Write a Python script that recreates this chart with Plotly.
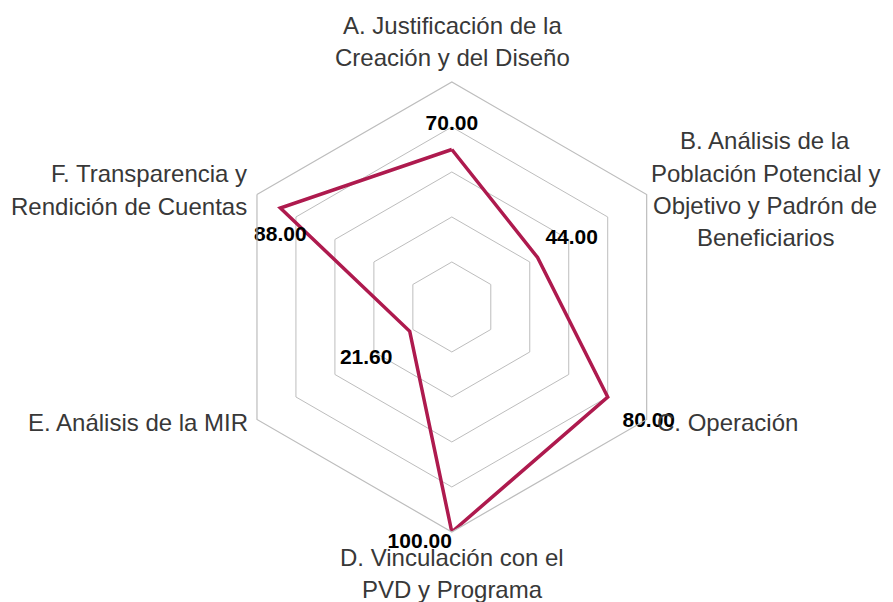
import plotly.graph_objects as go

categorias = [
    "A. Justificación de la Creación y del Diseño",
    "B. Análisis de la Población Potencial y Objetivo y Padrón de Beneficiarios",
    "C. Operación",
    "D. Vinculación con el PVD y Programa",
    "E. Análisis de la MIR",
    "F. Transparencia y Rendición de Cuentas",
]
valores = [70.00, 44.00, 80.00, 100.00, 21.60, 88.00]
etiquetas = [
    ["A. Justificación de la", "Creación y del Diseño"],
    ["B. Análisis de la", "Población Potencial y", "Objetivo y Padrón de", "Beneficiarios"],
    ["C. Operación"],
    ["D. Vinculación con el", "PVD y Programa"],
    ["E. Análisis de la MIR"],
    ["F. Transparencia y", "Rendición de Cuentas"],
]

line_color = "#AE1A4E"
grid_color = "#BDBDBD"
font_txt = "Liberation Sans"

# close the polygon
theta = categorias + categorias[:1]
r = valores + valores[:1]
textos = [f"{v:.2f}" for v in valores] + [""]
posiciones = ["top center", "top right", "bottom right", "bottom left",
              "bottom left", "bottom center", "top center"]
# invisible markers only used to push the value labels away from the vertices
empuje = [21, 11, 22, 0, 26, 26, 0]

fig = go.Figure()
fig.add_trace(go.Scatterpolar(
    r=r,
    theta=theta,
    mode="lines+markers+text",
    line=dict(color=line_color, width=3.5),
    marker=dict(size=empuje, color="rgba(0,0,0,0)", line=dict(width=0)),
    text=textos,
    textposition=posiciones,
    textfont=dict(family=font_txt, size=21, color="black", weight="bold"),
    cliponaxis=False,
    hoverinfo="skip",
))

fig.update_layout(
    width=893,
    height=602,
    margin=dict(l=0, r=0, t=0, b=0),
    paper_bgcolor="white",
    plot_bgcolor="white",
    showlegend=False,
    polar=dict(
        domain=dict(x=[0.245, 0.749], y=[0.1296, 0.8771]),
        bgcolor="white",
        gridshape="linear",
        radialaxis=dict(
            range=[0, 100],
            tickvals=[20, 40, 60, 80],
            showticklabels=False,
            showline=False,
            ticks="",
            gridcolor=grid_color,
            gridwidth=1.2,
        ),
        angularaxis=dict(
            rotation=90,
            direction="clockwise",
            showticklabels=False,
            ticks="",
            showgrid=False,
            showline=True,
            linecolor=grid_color,
            linewidth=1.2,
        ),
    ),
)

# category labels placed around the chart, one annotation per line
pos_etiquetas = [
    (444, 17, "center"),
    (757, 133, "center"),
    (647, 414, "left"),
    (444, 549, "center"),
    (242, 414, "right"),
    (241, 166, "right"),
]
interlinea = 32
for lineas, (x, y0, xa) in zip(etiquetas, pos_etiquetas):
    for i, txt in enumerate(lineas):
        y = y0 + i * interlinea
        fig.add_annotation(
            x=x / 893, y=1 - y / 602, xref="paper", yref="paper",
            text=txt, showarrow=False, xanchor=xa, yanchor="middle",
            font=dict(family=font_txt, size=24, color="#383838"),
        )

fig.write_html("out.html")
